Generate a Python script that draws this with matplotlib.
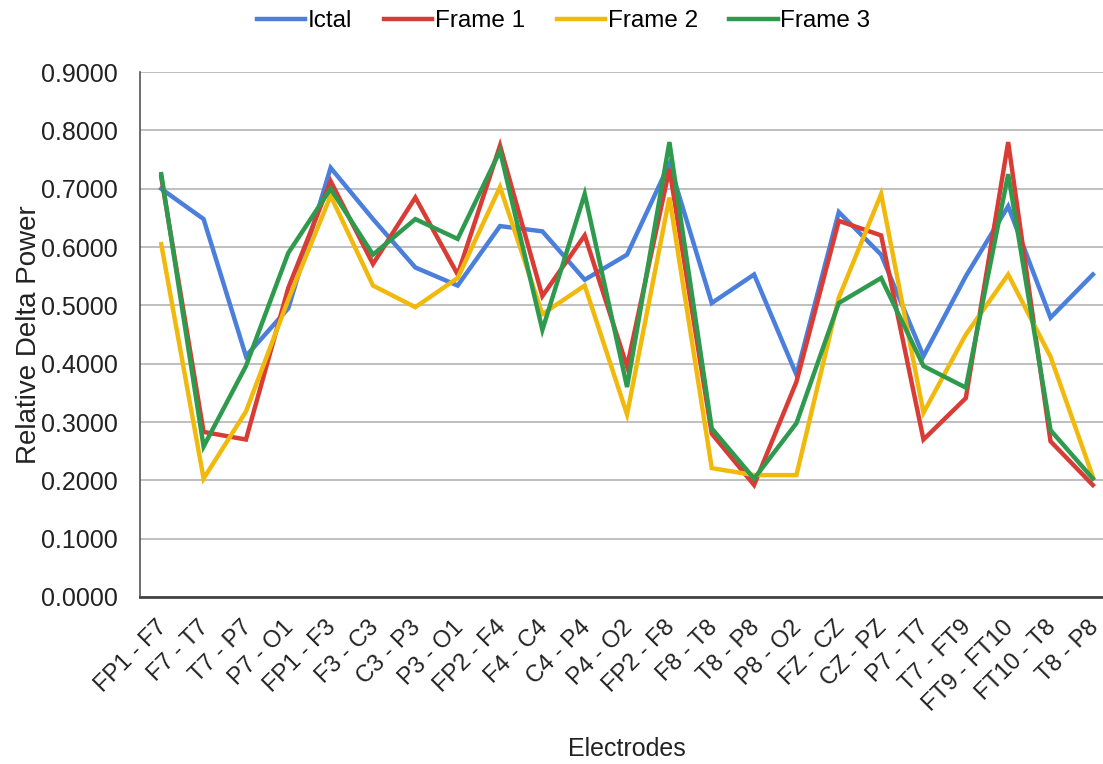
import matplotlib
matplotlib.use('Agg')
import matplotlib.pyplot as plt
from matplotlib.ticker import FormatStrFormatter

plt.rcParams['font.family'] = ['Liberation Sans', 'DejaVu Sans']

# electrode pairs along the x axis
electrodes = ['FP1 - F7', 'F7 - T7', 'T7 - P7', 'P7 - O1', 'FP1 - F3', 'F3 - C3',
              'C3 - P3', 'P3 - O1', 'FP2 - F4', 'F4 - C4', 'C4 - P4', 'P4 - O2',
              'FP2 - F8', 'F8 - T8', 'T8 - P8', 'P8 - O2', 'FZ - CZ', 'CZ - PZ',
              'P7 - T7', 'T7 - FT9', 'FT9 - FT10', 'FT10 - T8', 'T8 - P8']

# relative delta power
ictal = [0.700, 0.648, 0.413, 0.495, 0.736, 0.648, 0.565, 0.534, 0.636, 0.627,
         0.544, 0.587, 0.743, 0.504, 0.553, 0.381, 0.660, 0.587, 0.413, 0.550,
         0.670, 0.479, 0.553]
frame1 = [0.720, 0.283, 0.270, 0.530, 0.713, 0.571, 0.685, 0.553, 0.774, 0.516,
          0.620, 0.395, 0.734, 0.280, 0.192, 0.369, 0.645, 0.620, 0.270, 0.341,
          0.780, 0.267, 0.192]
frame2 = [0.605, 0.203, 0.318, 0.510, 0.688, 0.534, 0.497, 0.547, 0.703, 0.485,
          0.534, 0.313, 0.685, 0.221, 0.209, 0.209, 0.513, 0.691, 0.316, 0.450,
          0.553, 0.412, 0.206]
frame3 = [0.725, 0.258, 0.396, 0.590, 0.700, 0.587, 0.648, 0.614, 0.765, 0.458,
          0.691, 0.360, 0.780, 0.289, 0.203, 0.298, 0.504, 0.547, 0.396, 0.359,
          0.725, 0.286, 0.203]

series = [('Ictal', ictal, '#4a7fdc'),
          ('Frame 1', frame1, '#d93b35'),
          ('Frame 2', frame2, '#f2b90d'),
          ('Frame 3', frame3, '#2e9a4e')]

fig = plt.figure(figsize=(11.03, 7.64), dpi=100)
ax = fig.add_axes([0.127, 0.2186, 0.883, 0.687])

x = range(len(electrodes))
for name, vals, col in series:
    ax.plot(x, vals, color=col, lw=3.2, label=name, solid_joinstyle='miter')

ax.set_xlim(-0.5, len(electrodes) - 0.5)
ax.set_ylim(0, 0.9)
ax.set_yticks([i / 10 for i in range(10)])
ax.yaxis.set_major_formatter(FormatStrFormatter('%.4f'))
ax.grid(axis='y', color='#b4b4b4', lw=1.2)
ax.set_axisbelow(True)
for s in ['top', 'right']:
    ax.spines[s].set_visible(False)
ax.spines['left'].set_color('#555555')
ax.spines['left'].set_linewidth(1.2)
ax.spines['bottom'].set_color('#444444')
ax.spines['bottom'].set_linewidth(2)

# rotated electrode labels, placed by hand so the last one stays inside the figure
ax.set_xticks(list(x))
ax.set_xticklabels([])
for i, lab in zip(x, electrodes):
    ax.annotate(lab, xy=(i, 0), xycoords=('data', 'axes fraction'),
                xytext=(-4, -14), textcoords='offset points',
                rotation=45, rotation_mode='anchor', ha='right', va='top',
                fontsize=17, color='#222222', annotation_clip=False)
ax.tick_params(axis='y', labelsize=18, length=0, pad=16, colors='#222222')
ax.tick_params(axis='x', length=0)

ax.set_ylabel('Relative Delta Power', fontsize=20, color='#222222')
ax.yaxis.set_label_coords(-0.101, 0.5)
fig.text(0.568, 0.011, 'Electrodes', fontsize=18, ha='center', color='#222222')

fig.legend(loc='center', bbox_to_anchor=(0.511, 0.972), ncol=4, frameon=False,
           fontsize=17.5, handlelength=2.0, handletextpad=0.1, columnspacing=1.3)

plt.savefig('out.png', dpi=100)
plt.close()
